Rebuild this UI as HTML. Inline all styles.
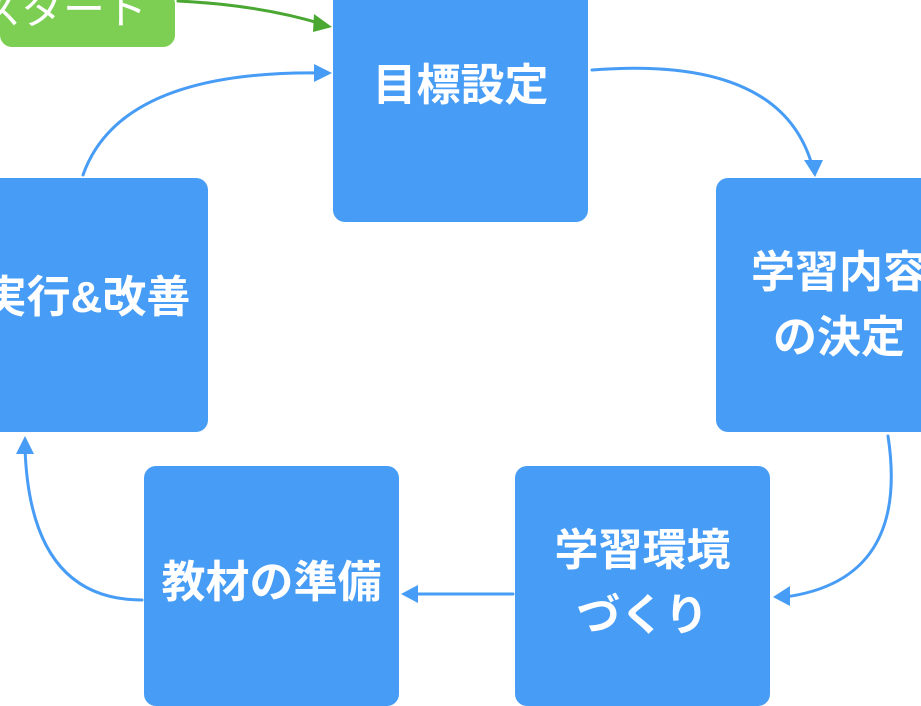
<!DOCTYPE html>
<html><head><meta charset="utf-8"><style>
html,body{margin:0;padding:0;background:#fff;}
body{width:921px;height:691px;position:relative;overflow:hidden;font-family:"Liberation Sans","Noto Sans CJK JP",sans-serif;}
.b{position:absolute;background:#479cf5;border-radius:12px;color:#fff;font-weight:bold;font-size:44px;display:flex;align-items:center;justify-content:center;text-align:center;line-height:65px;white-space:nowrap;}
svg{position:absolute;left:0;top:0;}
</style></head><body>
<div class="b" style="left:0;top:-8px;width:175px;height:55px;background:#7ccf52;font-weight:normal;justify-content:flex-end;padding-right:28px;box-sizing:border-box;align-items:flex-start;line-height:36px;font-size:42px">スタート</div>
<div class="b" style="left:333px;top:-20px;width:255px;height:242px;align-items:flex-start;padding-top:73px;box-sizing:border-box;">目標設定</div>
<div class="b" style="left:716px;top:178px;width:255px;height:254px;justify-content:flex-start;padding-left:35px;box-sizing:border-box;">学習内容<br>の決定</div>
<div class="b" style="left:-35px;top:178px;width:243px;height:254px;align-items:flex-start;padding-top:87px;box-sizing:border-box;">実行&amp;改善</div>
<div class="b" style="left:144px;top:466px;width:255px;height:240px;align-items:flex-start;padding-top:84px;box-sizing:border-box;">教材の準備</div>
<div class="b" style="left:515px;top:466px;width:255px;height:240px;align-items:flex-start;padding-top:52px;box-sizing:border-box;">学習環境<br>づくり</div>
<svg width="921" height="691" viewBox="0 0 921 691" fill="none" stroke-width="3" stroke-linecap="round">
<path d="M178 1 Q260 5 322 24" stroke="#4aa832"/>
<polygon points="332,27 314,14 313,32" fill="#4aa832"/>
<path d="M83 175 Q120 70 322 73" stroke="#479cf5"/>
<polygon points="332,73 314,64 314,82" fill="#479cf5"/>
<path d="M592 70 Q780 55 812 165" stroke="#479cf5"/>
<polygon points="815,177 804,160 823,160" fill="#479cf5"/>
<path d="M888 436 Q910 580 785 597" stroke="#479cf5"/>
<polygon points="773,597 790,586 790,606" fill="#479cf5"/>
<path d="M513 594 L412 594" stroke="#479cf5"/>
<polygon points="401,594 418,585 418,603" fill="#479cf5"/>
<path d="M142 600 Q30 600 25 448" stroke="#479cf5"/>
<polygon points="25,436 16,454 34,454" fill="#479cf5"/>
</svg>
</body></html>
